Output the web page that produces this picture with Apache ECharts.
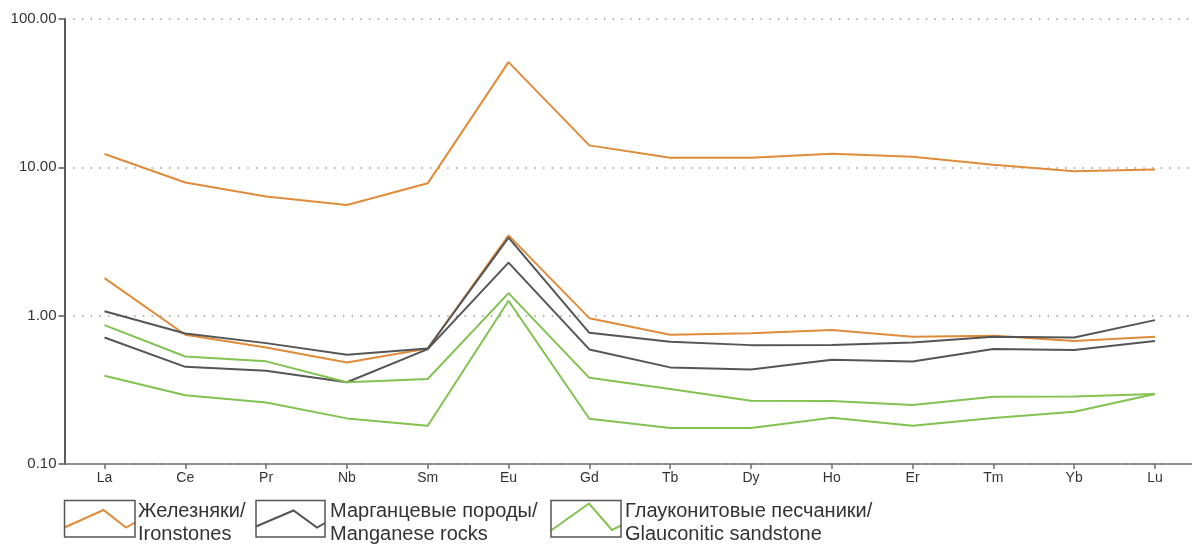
<!DOCTYPE html>
<html>
<head>
<meta charset="utf-8">
<script src="https://cdn.jsdelivr.net/npm/echarts@6/dist/echarts.min.js"></script>
<style>
html,body{margin:0;padding:0;background:#fff;}
#chart{width:1192px;height:544px;}
</style>
</head>
<body>
<div id="chart"></div>
<script>
const categories = ['La','Ce','Pr','Nb','Sm','Eu','Gd','Tb','Dy','Ho','Er','Tm','Yb','Lu'];
const yTicks = [0.1, 1, 10, 100];

const ironHigh = [12.3, 7.9, 6.35, 5.57, 7.8, 51.2, 14.06, 11.6, 11.6, 12.37, 11.8, 10.4, 9.4, 9.66];
const ironLow  = [1.79, 0.743, 0.611, 0.484, 0.601, 3.48, 0.962, 0.743, 0.762, 0.802, 0.72, 0.731, 0.676, 0.72];
const mnHigh   = [1.07, 0.759, 0.653, 0.545, 0.601, 3.36, 0.766, 0.666, 0.633, 0.635, 0.66, 0.72, 0.713, 0.933];
const mnLow    = [0.713, 0.452, 0.425, 0.356, 0.595, 2.28, 0.592, 0.448, 0.434, 0.504, 0.491, 0.595, 0.586, 0.676];
const glHigh   = [0.863, 0.531, 0.492, 0.356, 0.374, 1.42, 0.381, 0.32, 0.267, 0.266, 0.25, 0.284, 0.285, 0.296];
const glLow    = [0.393, 0.291, 0.26, 0.203, 0.181, 1.26, 0.202, 0.175, 0.175, 0.205, 0.181, 0.204, 0.225, 0.296];

const groupNames = ['Железняки/\nIronstones', 'Марганцевые породы/\nManganese rocks', 'Глауконитовые песчаники/\nGlauconitic sandstone'];
const groupColors = ['#DF8B3A', '#555555', '#82C250'];

const FONT = '"Liberation Sans", Arial, sans-serif';
const catIdx = categories.map((c, i) => i);

function line(name, data, color) {
  return {
    type: 'line', name: name, data: data.map((v, i) => [catIdx[i], v]), symbol: 'none',
    lineStyle: { color: color, width: 2 }, itemStyle: { color: color },
    silent: true, animation: false
  };
}

const series = [
  line(groupNames[0], ironHigh, groupColors[0]),
  line(groupNames[0], ironLow, groupColors[0]),
  line(groupNames[1], mnHigh, groupColors[1]),
  line(groupNames[1], mnLow, groupColors[1]),
  line(groupNames[2], glHigh, groupColors[2]),
  line(groupNames[2], glLow, groupColors[2])
];

// custom legend (box with zigzag + two-line text)
const legendBoxes = [
  { x: 64.5, w: 70.5, tx: 138, pts: [[0,27],[39,9.5],[61.5,27],[70.5,22]] },
  { x: 256, w: 69, tx: 330, pts: [[0,26],[37.5,10],[61,27],[69,22.5]] },
  { x: 551, w: 70, tx: 625, pts: [[0,30],[38,3],[61,29.5],[70,25]] }
];
const graphic = [];
legendBoxes.forEach((b, i) => {
  const top = 500.5, h = 36.5;
  graphic.push({
    type: 'polyline', silent: true,
    shape: { points: b.pts.map(p => [b.x + p[0], top + p[1]]) },
    style: { stroke: groupColors[i], lineWidth: 2, fill: null }
  });
  graphic.push({
    type: 'rect', silent: true,
    shape: { x: b.x, y: top, width: b.w, height: h },
    style: { stroke: '#555', lineWidth: 1.5, fill: null }
  });
  graphic.push({
    type: 'text', silent: true, x: b.tx, y: 499.5,
    style: { text: groupNames[i], font: '20px ' + FONT, fill: '#333', lineHeight: 23, verticalAlign: 'top', align: 'left' }
  });
});

const chart = echarts.init(document.getElementById('chart'), null, { renderer: 'canvas' });
chart.setOption({
  animation: false,
  backgroundColor: '#fff',
  grid: { left: 64.5, right: 0, top: 19, bottom: 80, containLabel: false },
  xAxis: {
    type: 'value', min: -0.495, max: 13.458,
    axisLine: { show: true, onZero: false, lineStyle: { color: '#6e6e6e', width: 1.5 } },
    axisTick: { show: true, customValues: catIdx, length: 5, lineStyle: { color: '#6e6e6e', width: 1.5 } },
    axisLabel: { customValues: catIdx, color: '#333', fontFamily: FONT, fontSize: 14, margin: 7,
      formatter: v => categories[Math.round(v)] },
    splitLine: { show: false }
  },
  yAxis: {
    type: 'log', logBase: 10, min: yTicks[0], max: yTicks[yTicks.length - 1],
    axisLine: { show: true, onZero: false, lineStyle: { color: '#5a5a5a', width: 2 } },
    axisTick: { show: true, length: 6, lineStyle: { color: '#5a5a5a', width: 1.5 } },
    axisLabel: { color: '#333', fontFamily: FONT, fontSize: 15, margin: 8,
      formatter: v => Number(v).toFixed(2) },
    splitLine: { show: true, lineStyle: { color: '#9a9a9a', width: 1.5, type: [1.5, 7.2] } },
    minorTick: { show: false }
  },
  series: series,
  graphic: graphic
});
</script>
</body>
</html>
